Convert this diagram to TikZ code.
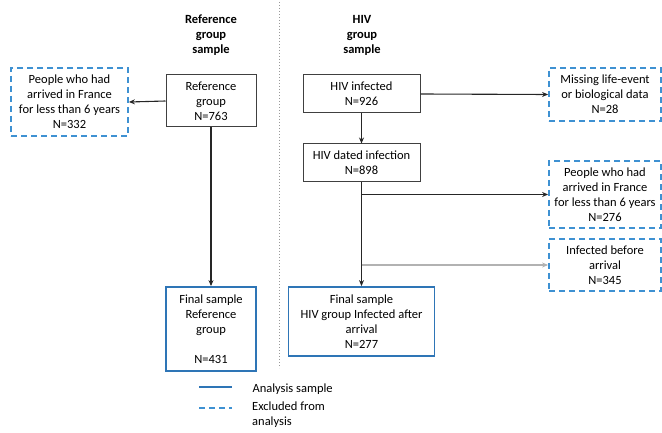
\documentclass[tikz,border=0pt]{standalone}
\usepackage{fontspec}
\setmainfont{Carlito}
\usetikzlibrary{arrows.meta}
\definecolor{keptblue}{RGB}{46,117,182}
\definecolor{exclblue}{RGB}{62,145,210}
\tikzset{
  box/.style={draw=black!75, line width=1pt, align=center, inner sep=0pt},
  keptbox/.style={box, draw=keptblue, line width=1.8pt},
  exclbox/.style={box, draw=exclblue, line width=1.8pt, dash pattern=on 6pt off 4pt},
  flow/.style={draw=black!85, line width=1.1pt, -{Stealth[length=6pt,width=5pt]}},
}
\begin{document}
\begin{tikzpicture}[x=1pt, y=-1pt, font=\fontsize{12.5}{15}\selectfont]
  \useasboundingbox (0,0) rectangle (662,433);

  %A: Column titles and divider
  \node[font=\fontsize{12.5}{15}\selectfont\bfseries, align=center] (reftitle) at (211,35) {Reference\\group\\sample};
  \node[font=\fontsize{12.5}{15}\selectfont\bfseries, align=center] (hivtitle) at (362,35) {HIV\\group\\sample};
  \draw[black!40, line width=1pt, dotted] (279,2) -- (279,368);

  %A: Reference group
  \node[box, minimum width=90pt, minimum height=52pt] (refgrp) at (211,101) {Reference\\group\\N=763};
  \node[exclbox, minimum width=117pt, minimum height=68pt] (refexcl) at (69.5,102) {People who had\\arrived in France\\for less than 6 years\\N=332};
  \node[keptbox, minimum width=90pt, minimum height=84pt] (reffinal) at (211,329) {Final sample\\Reference\\group\\\strut\\N=431};

  %A: HIV group
  \node[box, minimum width=117pt, minimum height=38pt] (hivinf) at (361.5,94) {HIV infected\\N=926};
  \node[box, minimum width=117pt, minimum height=38pt] (hivdated) at (361.5,163) {HIV dated infection\\N=898};
  \node[keptbox, minimum width=146pt, minimum height=69pt] (hivfinal) at (361.5,321.5) {Final sample\\HIV group Infected after\\arrival\\N=277};
  \node[exclbox, minimum width=112pt, minimum height=53pt] (missing) at (605,94.5) {Missing life-event\\or biological data\\N=28};
  \node[exclbox, minimum width=112pt, minimum height=67pt] (hivexcl) at (605,194.5) {People who had\\arrived in France\\for less than 6 years\\N=276};
  \node[exclbox, minimum width=112pt, minimum height=52pt] (before) at (605,265) {Infected before\\arrival\\N=345};

  %A: Connectors
  \draw[flow] (refgrp.west) -- (refexcl.east);
  \draw[flow] (refgrp.south) -- (reffinal.north);
  \draw[flow] (hivinf.east) -- (missing.west);
  \draw[flow] (hivinf.south) -- (hivdated.north);
  \draw[flow] (hivdated.south) -- (hivfinal.north);
  \draw[flow] (hivdated.south |- hivexcl.west) -- (hivexcl.west);
  \draw[flow, draw=black!30] (hivdated.south |- before.west) -- (before.west);

  %A: Legend
  \coordinate (keyA) at (199,387);
  \coordinate (keyB) at (199,408);
  \draw[keptblue, line width=1.8pt] (keyA) -- ++(33,0);
  \draw[exclblue, line width=1.8pt, dash pattern=on 6pt off 4pt] (keyB) -- ++(33,0);
  \node[anchor=west] (keytextA) at (249,389) {Analysis sample};
  \node[anchor=north west, align=left, inner sep=0pt] (keytextB) at (252,402) {Excluded from\\analysis};
\end{tikzpicture}
\end{document}
